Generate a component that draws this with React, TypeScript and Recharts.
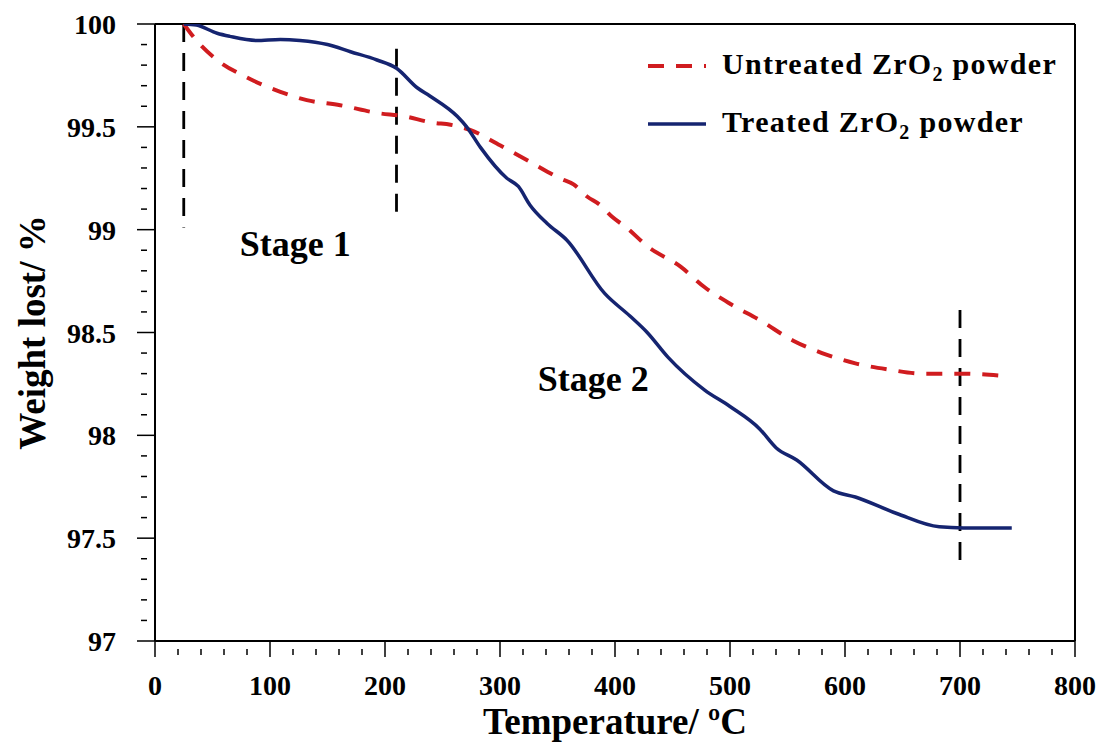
import * as React from 'react'
import {
  LineChart,
  Line,
  XAxis,
  YAxis,
  ReferenceLine,
  ReferenceDot,
} from 'recharts'

// temperature (°C) / weight (%)
const treatedT = [25, 36, 54, 65, 88, 109, 126, 150, 170, 193, 210, 228, 239, 263, 271, 283, 306, 316, 326, 341, 358, 391, 413, 428, 446, 478, 500, 526, 540, 558, 590, 609, 645, 682, 703, 745]
const treatedW = [100, 99.995, 99.955, 99.94, 99.92, 99.925, 99.92, 99.9, 99.865, 99.825, 99.785, 99.69, 99.65, 99.55, 99.5, 99.4, 99.25, 99.21, 99.12, 99.03, 98.95, 98.69, 98.58, 98.5, 98.38, 98.22, 98.14, 98.03, 97.94, 97.88, 97.73, 97.7, 97.62, 97.555, 97.55, 97.55]

const untreatedT = [25, 36, 54, 80, 109, 132, 161, 196, 213, 242, 257, 274, 300, 326, 352, 364, 376, 387, 398, 410, 428, 457, 478, 500, 526, 555, 580, 609, 638, 667, 703, 735]
const untreatedW = [100, 99.92, 99.825, 99.74, 99.67, 99.63, 99.605, 99.565, 99.555, 99.52, 99.51, 99.485, 99.41, 99.33, 99.25, 99.22, 99.16, 99.12, 99.06, 99.01, 98.92, 98.82, 98.72, 98.64, 98.56, 98.46, 98.4, 98.35, 98.32, 98.3, 98.3, 98.29]

// stage boundary markers: x, top, bottom
const stageX = [25, 210, 700]
const stageTop = [100, 99.88, 98.61]
const stageBottom = [99.01, 99.04, 97.355]

const stageLabels = ['Stage 1', 'Stage 2']
const stageLabelX = [122, 381]
const stageLabelY = [98.935, 98.28]

const xMajor = [0, 100, 200, 300, 400, 500, 600, 700, 800]
const yMajor = [97, 97.5, 98, 98.5, 99, 99.5, 100]

function range(a: number, b: number, step: number) {
  const out: number[] = []
  for (let v = a; v <= b + step / 2; v += step) out.push(Math.round(v * 100) / 100)
  return out
}
const xTicks = range(0, 800, 20)
const yTicks = range(97, 100, 0.1)

const treatedData = treatedT.map((t, i) => ({ t, w: treatedW[i] }))
const untreatedData = untreatedT.map((t, i) => ({ t, w: untreatedW[i] }))

const FONT = '"Liberation Serif", "Times New Roman", serif'
const RED = '#d01c1f'
const NAVY = '#152470'

function XTick(props: any) {
  const { x, y, payload } = props
  const major = xMajor.includes(payload.value)
  return (
    <g>
      <line x1={x} x2={x} y1={y - (major ? 8 : 0)} y2={y + (major ? 8 : 6)} stroke="#000" strokeWidth={1.5} />
      {major && (
        <text x={x} y={y + 46} textAnchor="middle" fontFamily={FONT} fontWeight="bold" fontSize={28} fill="#000">
          {payload.value}
        </text>
      )}
    </g>
  )
}

function YTick(props: any) {
  const { x, y, payload } = props
  const major = yMajor.some((m) => Math.abs(m - payload.value) < 1e-6)
  return (
    <g>
      <line x1={x - (major ? 10 : 6)} x2={x + (major ? 8 : 0)} y1={y} y2={y} stroke="#000" strokeWidth={1.5} />
      {major && (
        <text x={x - 31} y={y + 10} textAnchor="end" fontFamily={FONT} fontWeight="bold" fontSize={28} fill="#000">
          {payload.value}
        </text>
      )}
    </g>
  )
}

const legendItems = [
  { name: 'Untreated ZrO', color: RED, dash: '16 12', width: 4 },
  { name: 'Treated ZrO', color: NAVY, dash: undefined, width: 3.5 },
]

function ChartLegend() {
  return (
    <div
      style={{
        position: 'absolute',
        left: 646,
        top: 37,
        fontFamily: FONT,
        fontWeight: 'bold',
        fontSize: 30,
        letterSpacing: 1.3,
        color: '#000',
      }}
    >
      {legendItems.map((it) => (
        <div key={it.name} style={{ display: 'flex', alignItems: 'center', height: 58, whiteSpace: 'nowrap' }}>
          <svg width={76} height={10}>
            <line x1={2} x2={60} y1={5} y2={5} stroke={it.color} strokeWidth={it.width} strokeDasharray={it.dash} />
          </svg>
          <span>
            {it.name}
            <sub style={{ fontSize: 20 }}>2</sub> powder
          </span>
        </div>
      ))}
    </div>
  )
}

export default function App() {
  return (
    <div style={{ position: 'absolute', left: 0, top: 0, width: 1107, height: 748, background: '#fff' }}>
      <LineChart width={1107} height={748} margin={{ top: 24, right: 32, left: 0, bottom: 0 }}>
        <XAxis
          type="number"
          dataKey="t"
          domain={[0, 800]}
          ticks={xTicks}
          interval={0}
          tick={<XTick />}
          tickLine={false}
          axisLine={{ stroke: '#000', strokeWidth: 2 }}
          height={107}
          allowDuplicatedCategory={false}
          label={{
            value: 'Temperature/ ºC',
            position: 'insideBottom',
            offset: 14,
            style: { fontFamily: FONT, fontWeight: 'bold', fontSize: 37, fill: '#000' },
          }}
        />
        <YAxis
          type="number"
          domain={[97, 100]}
          ticks={yTicks}
          interval={0}
          tick={<YTick />}
          tickLine={false}
          axisLine={{ stroke: '#000', strokeWidth: 2 }}
          width={155}
          allowDataOverflow
          label={{
            value: 'Weight lost/ %',
            angle: -90,
            position: 'insideLeft',
            offset: 32,
            style: { fontFamily: FONT, fontWeight: 'bold', fontSize: 37, fill: '#000', textAnchor: 'middle' },
          }}
        />
        <ReferenceLine y={100} stroke="#000" strokeWidth={2} />
        <ReferenceLine x={800} stroke="#000" strokeWidth={2} />
        {stageX.map((sx, i) => (
          <ReferenceLine
            key={sx}
            segment={[
              { x: sx, y: stageTop[i] },
              { x: sx, y: stageBottom[i] },
            ]}
            stroke="#000"
            strokeWidth={2.8}
            strokeDasharray="18 11"
          />
        ))}
        {stageLabels.map((s, i) => (
          <ReferenceDot
            key={s}
            x={stageLabelX[i]}
            y={stageLabelY[i]}
            r={0}
            fill="none"
            stroke="none"
            label={{
              value: s,
              position: 'center',
              style: { fontFamily: FONT, fontWeight: 'bold', fontSize: 36, fill: '#000' },
            }}
          />
        ))}
        <Line
          data={untreatedData}
          dataKey="w"
          type="monotone"
          stroke={RED}
          strokeWidth={4}
          strokeDasharray="16 12"
          dot={false}
          isAnimationActive={false}
        />
        <Line
          data={treatedData}
          dataKey="w"
          type="monotone"
          stroke={NAVY}
          strokeWidth={3.5}
          dot={false}
          isAnimationActive={false}
        />
      </LineChart>
      <ChartLegend />
    </div>
  )
}
